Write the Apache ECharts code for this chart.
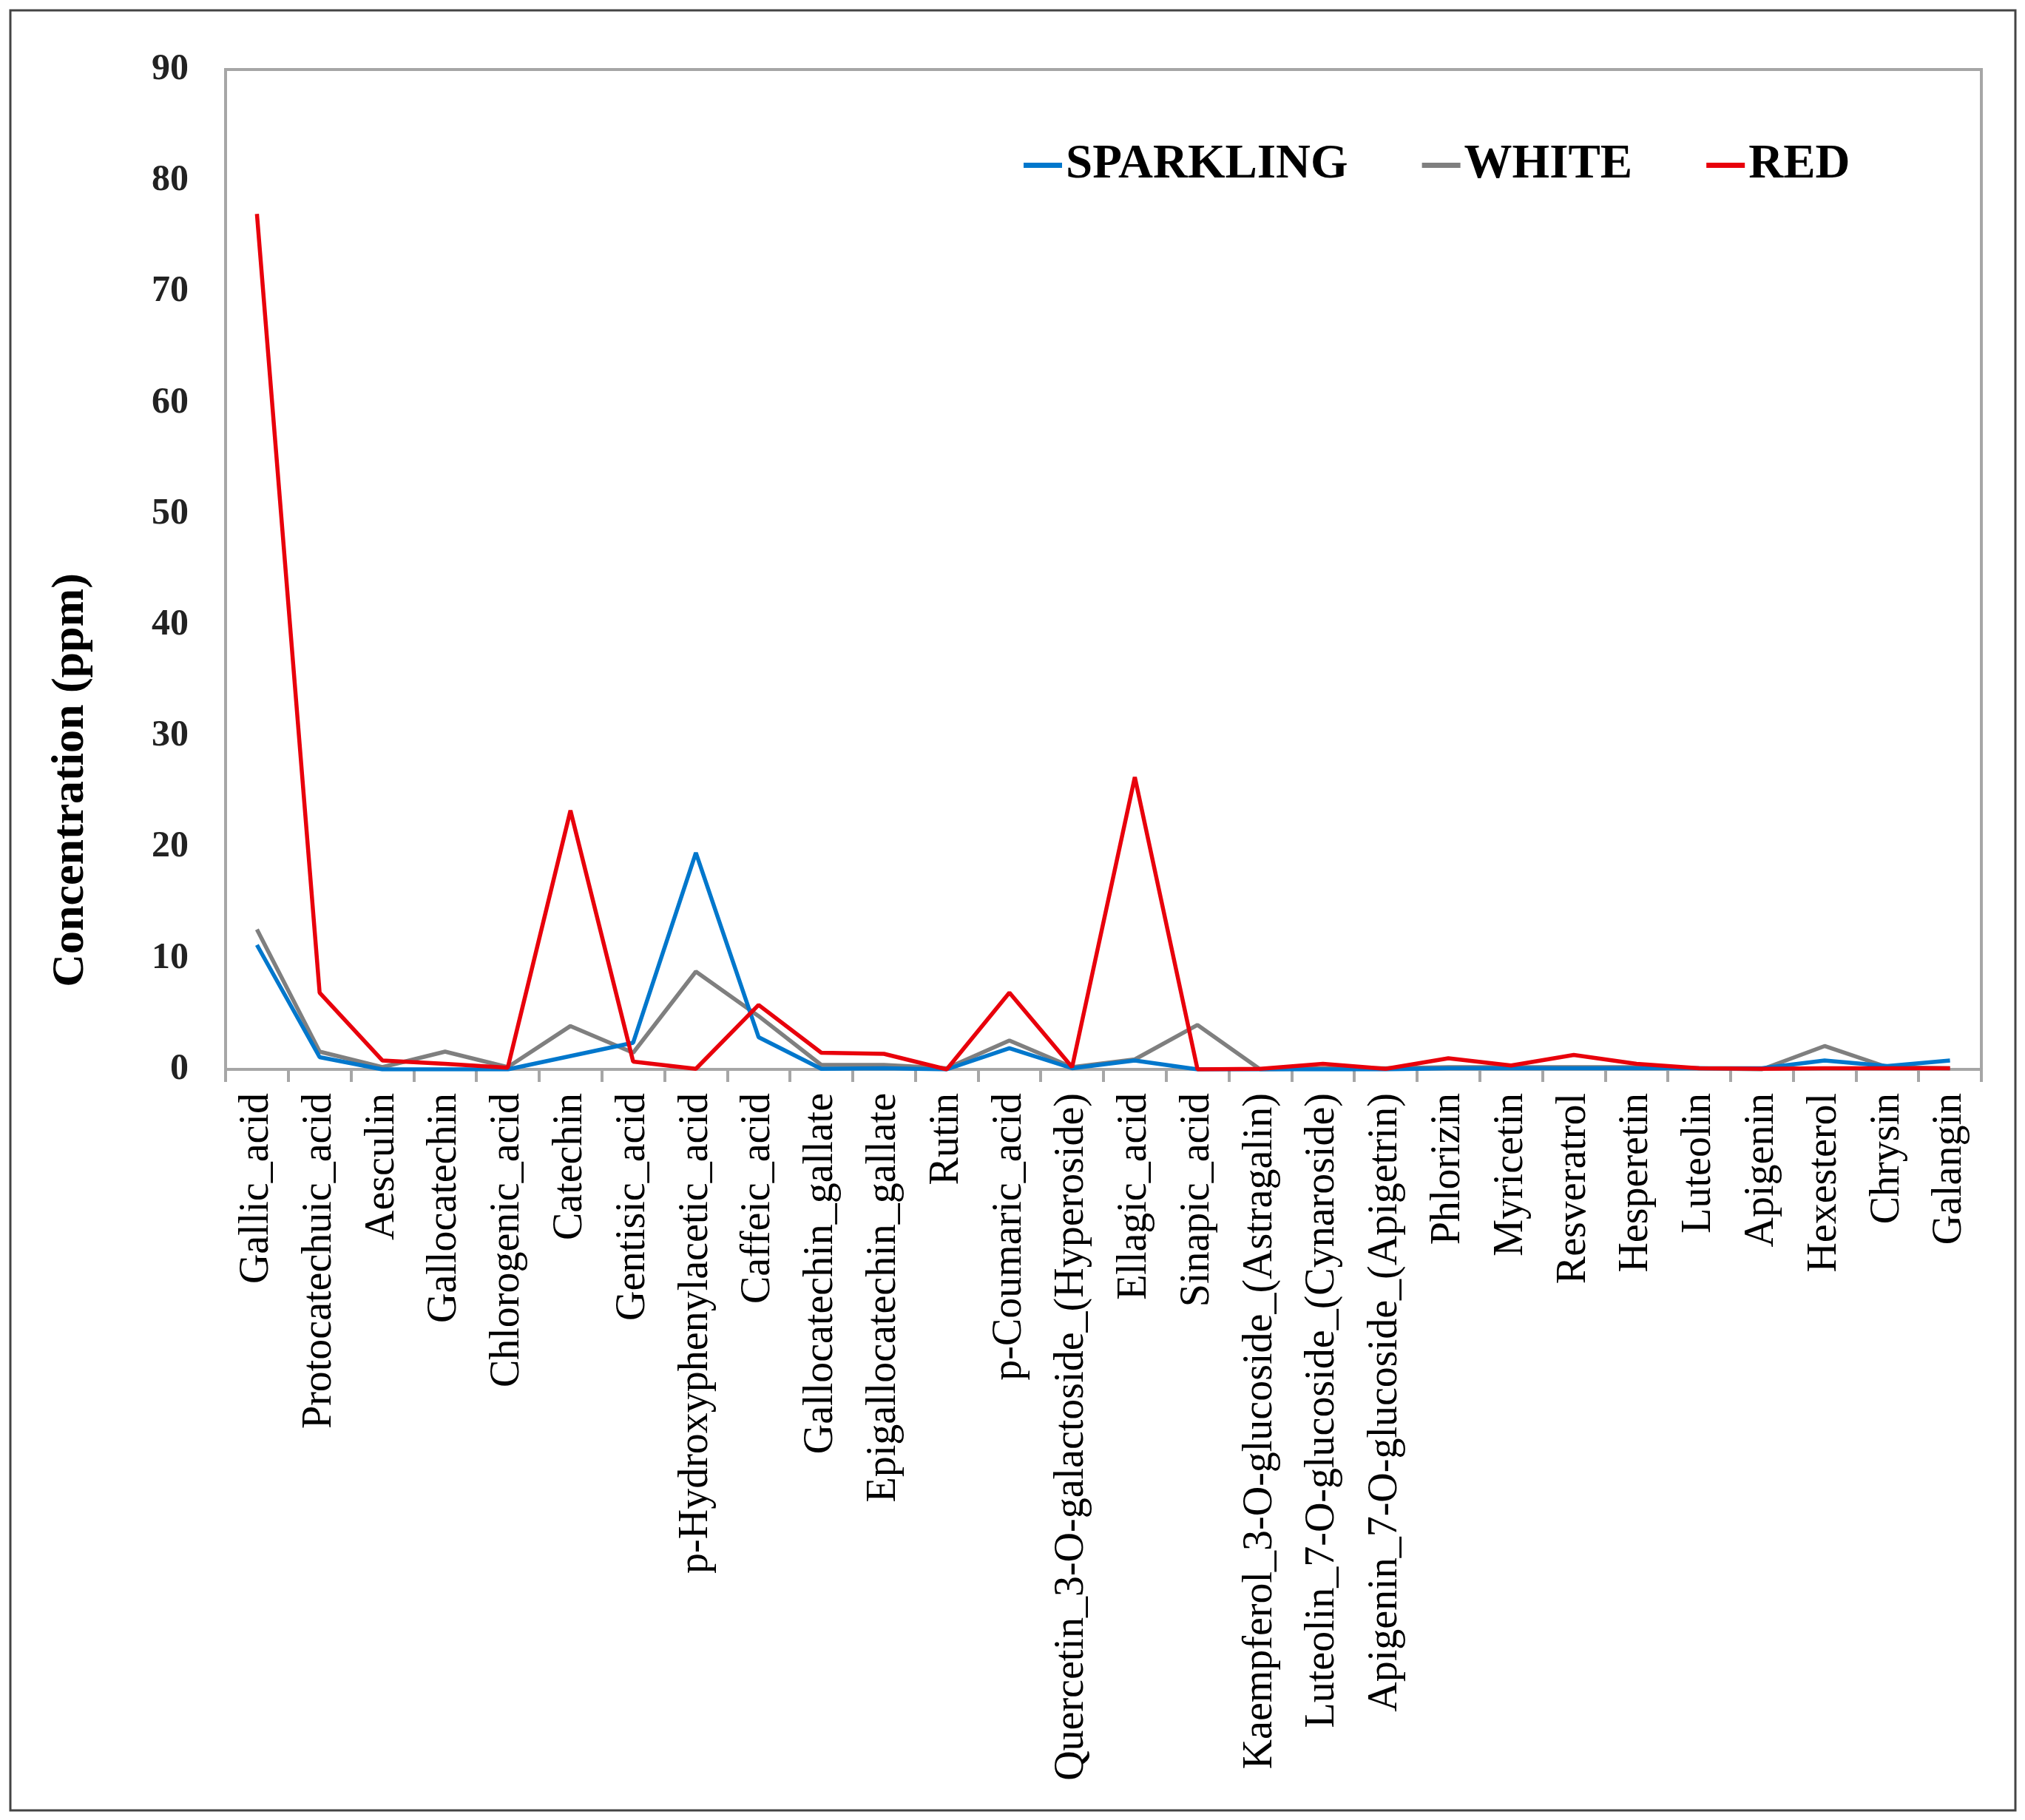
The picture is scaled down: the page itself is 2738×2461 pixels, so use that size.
<!DOCTYPE html>
<html>
<head>
<meta charset="utf-8">
<script src="https://cdn.jsdelivr.net/npm/echarts@6/dist/echarts.min.js"></script>
<style>
html, body { margin: 0; padding: 0; background: #fff; }
#chart { width: 2738px; height: 2461px; }
</style>
</head>
<body>
<div id="chart"></div>
<script>
var compounds = ['Gallic_acid', 'Protocatechuic_acid', 'Aesculin', 'Gallocatechin', 'Chlorogenic_acid',
	'Catechin', 'Gentisic_acid', 'p-Hydroxyphenylacetic_acid', 'Caffeic_acid', 'Gallocatechin_gallate',
	'Epigallocatechin_gallate', 'Rutin', 'p-Coumaric_acid', 'Quercetin_3-O-galactoside_(Hyperoside)',
	'Ellagic_acid', 'Sinapic_acid', 'Kaempferol_3-O-glucoside_(Astragalin)', 'Luteolin_7-O-glucoside_(Cynaroside)',
	'Apigenin_7-O-glucoside_(Apigetrin)', 'Phlorizin', 'Myricetin', 'Resveratrol', 'Hesperetin', 'Luteolin',
	'Apigenin', 'Hexesterol', 'Chrysin', 'Galangin'];

var sparkling = [11.2, 1.1, 0.0, 0.0, 0.0, 1.2, 2.4, 19.5, 2.9, 0.05, 0.1, 0.0, 1.9, 0.1,
	0.8, 0.0, 0.0, 0.0, 0.0, 0.1, 0.1, 0.1, 0.1, 0.1, 0.1, 0.8, 0.3, 0.8];
var white = [12.6, 1.6, 0.2, 1.6, 0.2, 3.9, 1.5, 8.8, 4.8, 0.4, 0.4, 0.1, 2.6, 0.2,
	0.9, 4.0, 0.0, 0.1, 0.1, 0.2, 0.2, 0.2, 0.2, 0.1, 0.0, 2.1, 0.2, 0.1];
var red = [77.0, 6.9, 0.8, 0.5, 0.15, 23.3, 0.7, 0.05, 5.8, 1.5, 1.4, 0.0, 6.9, 0.2,
	26.3, 0.0, 0.05, 0.5, 0.05, 1.0, 0.35, 1.3, 0.5, 0.1, 0.05, 0.1, 0.1, 0.1];

var yTicks = { min: 0, max: 90, step: 10 };

var chart = echarts.init(document.getElementById('chart'));

function lineSeries(name, data, color, z) {
	return {
		name: name,
		type: 'line',
		data: data,
		z: z,
		showSymbol: false,
		symbol: 'none',
		lineStyle: { color: color, width: 5.5 },
		itemStyle: { color: color }
	};
}

var option = {
	backgroundColor: '#fff',
	animation: false,
	textStyle: { fontFamily: 'Liberation Serif' },
	graphic: [{
		type: 'rect',
		shape: { x: 14, y: 14, width: 2711, height: 2434 },
		style: { fill: 'none', stroke: '#444', lineWidth: 3 }
	}, {
		type: 'text',
		x: 96,
		y: 1055,
		rotation: Math.PI / 2,
		style: {
			text: 'Concentration (ppm)',
			font: 'bold 62px "Liberation Serif"',
			fill: '#000',
			align: 'center',
			verticalAlign: 'middle'
		}
	}],
	legend: {
		data: ['SPARKLING', 'WHITE', 'RED'],
		left: 1379,
		top: 186,
		icon: 'rect',
		itemWidth: 52,
		itemHeight: 7,
		itemGap: 100,
		textStyle: { fontSize: 65, fontWeight: 'bold', color: '#000', fontFamily: 'Liberation Serif' }
	},
	grid: {
		left: 305,
		top: 94,
		right: 59,
		bottom: 1015,
		show: true,
		borderColor: '#a6a6a6',
		borderWidth: 4
	},
	xAxis: {
		type: 'category',
		data: compounds,
		boundaryGap: true,
		axisLine: { lineStyle: { color: '#a6a6a6', width: 4 } },
		axisTick: { show: true, length: 17, lineStyle: { color: '#a6a6a6', width: 4 } },
		axisLabel: { rotate: 90, interval: 0, fontSize: 56, color: '#000', margin: 32 },
		splitLine: { show: false }
	},
	yAxis: {
		type: 'value',
		min: yTicks.min,
		max: yTicks.max,
		interval: yTicks.step,
		axisLine: { show: true, lineStyle: { color: '#a6a6a6', width: 4 } },
		axisTick: { show: false },
		axisLabel: { fontSize: 50, fontWeight: 'bold', color: '#222', margin: 50 },
		splitLine: { show: false }
	},
	series: [
		lineSeries('SPARKLING', sparkling, '#0077cc', 3),
		lineSeries('WHITE', white, '#7f7f7f', 2),
		lineSeries('RED', red, '#e8000b', 4)
	]
};

chart.setOption(option);
</script>
</body>
</html>
